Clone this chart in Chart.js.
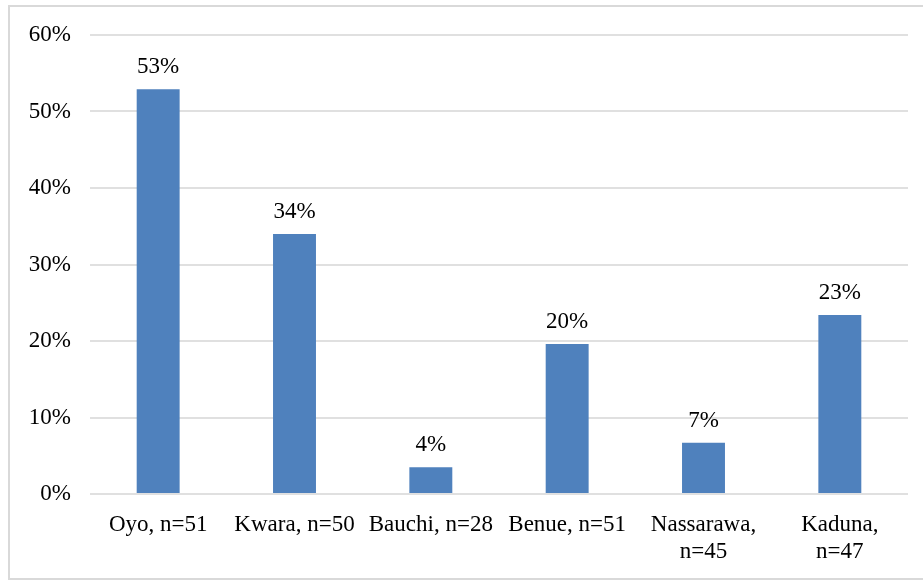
<!DOCTYPE html>
<html>
<head>
<meta charset="utf-8">
<script src="https://cdn.jsdelivr.net/npm/chart.js@4"></script>
<style>
  html, body { margin: 0; padding: 0; background: #fff; width: 923px; height: 580px; overflow: hidden; }
  #frame { position: absolute; left: 8px; top: 5px; width: 930px; height: 575px; border: 2px solid #d9d9d9; box-sizing: border-box; }
  #c { position: absolute; left: 0; top: 0; }
</style>
</head>
<body>
<div id="frame"></div>
<canvas id="c" width="923" height="580"></canvas>
<script>
const categories = [
  ["Oyo, n=51"],
  ["Kwara, n=50"],
  ["Bauchi, n=28"],
  ["Benue, n=51"],
  ["Nassarawa,", "n=45"],
  ["Kaduna,", "n=47"]
];
const values = [52.9, 34.0, 3.5, 19.6, 6.7, 23.4];
const valueLabels = ["53%", "34%", "4%", "20%", "7%", "23%"];
const yTicks = [0, 10, 20, 30, 40, 50, 60];

const FONT = "'Liberation Serif', 'Times New Roman', serif";

const dataLabelPlugin = {
  id: 'dataLabels',
  afterDatasetsDraw(chart) {
    const ctx = chart.ctx;
    const meta = chart.getDatasetMeta(0);
    ctx.save();
    ctx.font = "23px " + FONT;
    ctx.fillStyle = "#000";
    ctx.textAlign = "center";
    ctx.textBaseline = "alphabetic";
    meta.data.forEach((bar, i) => {
      ctx.fillText(valueLabels[i], bar.x, bar.y - 16);
    });
    ctx.restore();
  }
};

new Chart(document.getElementById('c'), {
  type: 'bar',
  data: {
    labels: categories,
    datasets: [{
      data: values,
      backgroundColor: '#4F81BD',
      borderWidth: 0,
      barPercentage: 0.315,
      categoryPercentage: 1.0
    }]
  },
  options: {
    responsive: false,
    animation: false,
    devicePixelRatio: 1,
    layout: { padding: { top: 35, right: 15, left: 0, bottom: 0 } },
    plugins: { legend: { display: false }, tooltip: { enabled: false } },
    scales: {
      x: {
        grid: { display: false },
        border: { display: false },
        ticks: {
          color: '#000',
          font: { family: FONT, size: 23, lineHeight: 1.2 },
          padding: 9,
          maxRotation: 0,
          minRotation: 0,
          autoSkip: false
        },
        afterFit(scale) { scale.height = 86; }
      },
      y: {
        min: 0,
        max: 60,
        afterBuildTicks(scale) { scale.ticks = yTicks.map(v => ({ value: v })); },
        grid: { color: '#e0e0e0', lineWidth: 2, drawTicks: false },
        border: { display: false },
        ticks: {
          color: '#000',
          font: { family: FONT, size: 23 },
          padding: 19,
          callback: v => v + '%'
        },
        afterFit(scale) { scale.width = 90; }
      }
    }
  },
  plugins: [dataLabelPlugin]
});
</script>
</body>
</html>
